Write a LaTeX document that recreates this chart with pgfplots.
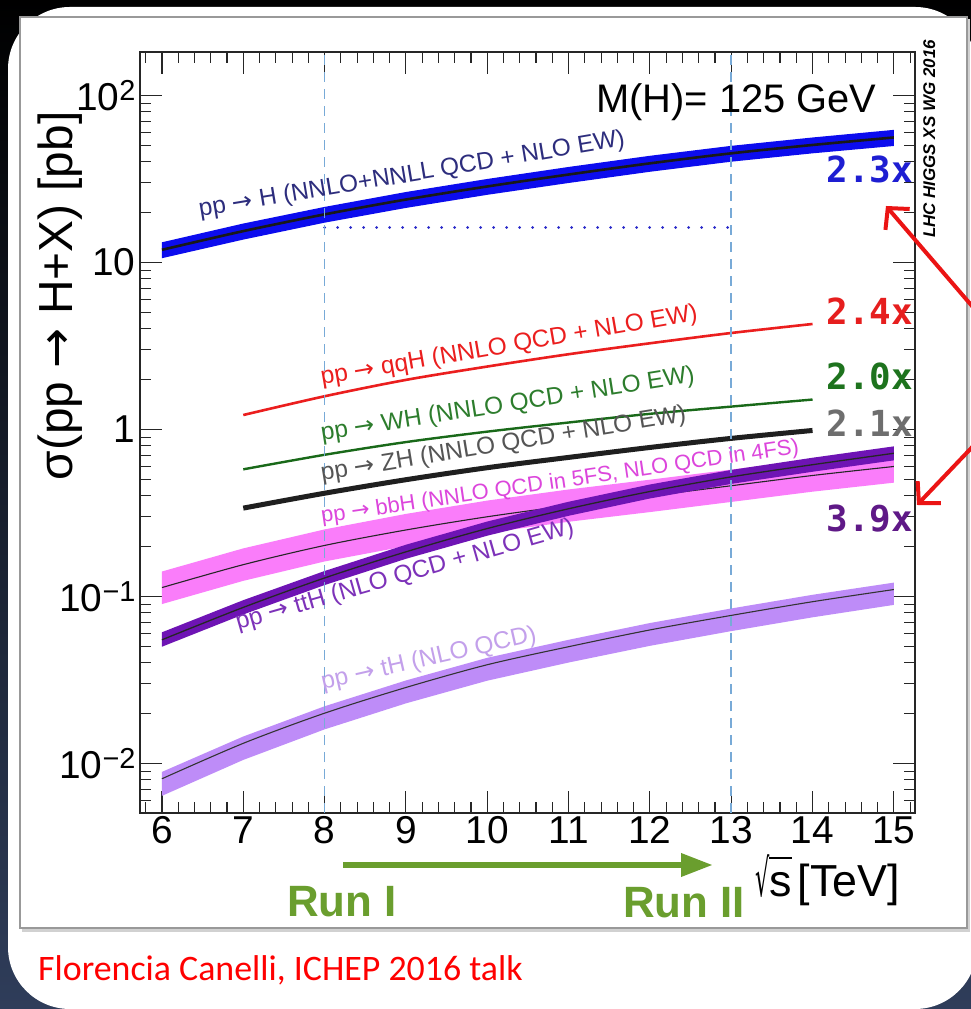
\documentclass[border=0pt]{standalone}
\usepackage{fontspec}
\setmainfont{Liberation Sans}
\newfontfamily\multfont{DejaVu Sans Mono}
\newfontfamily\dejavu{DejaVu Sans}
\newfontfamily\talkfont{Carlito}
\usepackage{graphicx}
\usepackage{pgfplots}
\usepackage{pgfplotstable}
\pgfplotsset{compat=1.18}
\usetikzlibrary{arrows.meta}

\definecolor{ggfblue}{RGB}{12,12,238}
\definecolor{ggftext}{RGB}{45,45,125}
\definecolor{ggfdot}{RGB}{40,40,200}
\definecolor{vbfred}{RGB}{235,30,30}
\definecolor{whgreen}{RGB}{25,105,25}
\definecolor{whtext}{RGB}{45,125,45}
\definecolor{zhtext}{RGB}{85,85,85}
\definecolor{bbhpink}{RGB}{250,125,250}
\definecolor{bbhtext}{RGB}{220,70,220}
\definecolor{tthpurple}{RGB}{110,20,180}
\definecolor{tthtext}{RGB}{125,50,185}
\definecolor{thlav}{RGB}{190,140,248}
\definecolor{thtext}{RGB}{195,160,235}
\definecolor{runline}{RGB}{120,170,215}
\definecolor{rungreen}{RGB}{106,158,46}
\definecolor{bgnavy}{RGB}{47,61,90}
\definecolor{multblue}{RGB}{30,30,210}
\definecolor{multred}{RGB}{230,30,30}
\definecolor{multgreen}{RGB}{30,115,30}
\definecolor{multgray}{RGB}{110,110,110}
\definecolor{multpurple}{RGB}{95,25,135}
\definecolor{arrowred}{RGB}{235,20,20}

\newcommand{\sups}[1]{\raisebox{10bp}{\fontsize{29}{29}\selectfont #1}}
\newcommand{\arr}{{\dejavu →}}

% cross sections [pb] vs sqrt(s) [TeV]: central value
\pgfplotstableread{
x c
6 11.9
7 15.4
8 19.4
9 23.8
10 28.5
11 33.6
12 39.2
13 45.0
14 50.5
15 56.0
}\tabggf

\pgfplotstableread{
x y
7 1.22
8 1.58
9 1.98
10 2.38
11 2.82
12 3.28
13 3.78
14 4.28
}\tabvbf

\pgfplotstableread{
x y
7 0.577
8 0.705
9 0.84
10 0.97
11 1.10
12 1.24
13 1.37
14 1.51
}\tabwh

\pgfplotstableread{
x y
7 0.338
8 0.415
9 0.50
10 0.59
11 0.68
12 0.78
13 0.884
14 0.986
}\tabzh

\pgfplotstableread{
x c
6 0.113
7 0.155
8 0.202
9 0.250
10 0.300
11 0.350
12 0.400
13 0.460
14 0.530
15 0.600
}\tabbbh

\pgfplotstableread{
x c
6 0.055
7 0.086
8 0.129
9 0.185
10 0.255
11 0.335
12 0.425
13 0.520
14 0.615
15 0.720
}\tabtth

\pgfplotstableread{
x c
6 0.0081
7 0.0132
8 0.0200
9 0.0285
10 0.0390
11 0.0500
12 0.0630
13 0.0770
14 0.0930
15 0.1100
}\tabth

\begin{document}
\begin{tikzpicture}
% slide background and white panel
\shade[top color=black, middle color=black!80!bgnavy, bottom color=bgnavy] (0,0) rectangle (971bp,1009bp);
\fill[white, rounded corners=62bp] (8bp,0bp) rectangle (977bp,1002bp);
% framed figure
\fill[black!18] (22bp,77bp) rectangle (970bp,990bp);
\fill[white] (20bp,81bp) rectangle (967bp,992bp);
\draw[black!40, line width=1.2bp] (20bp,81bp) rectangle (967bp,992bp);

\begin{axis}[
  at={(140bp,196bp)}, anchor=south west,
  scale only axis, width=775bp, height=761bp,
  xmin=5.73, xmax=15.26,
  ymode=log, ymin=0.00505, ymax=182,
  xtick={6,7,8,9,10,11,12,13,14,15},
  xticklabels={6,7,8,9,10,11,12,13,14,15},
  minor xtick={5.8,6.2,6.4,6.6,6.8,7.2,7.4,7.6,7.8,8.2,8.4,8.6,8.8,9.2,9.4,9.6,9.8,10.2,10.4,10.6,10.8,11.2,11.4,11.6,11.8,12.2,12.4,12.6,12.8,13.2,13.4,13.6,13.8,14.2,14.4,14.6,14.8,15.2},
  ytick={0.01,0.1,1,10,100},
  yticklabels={10\sups{−2},10\sups{−1},1,10,10\sups{2}},
  minor ytick={0.006,0.007,0.008,0.009,0.02,0.03,0.04,0.05,0.06,0.07,0.08,0.09,0.2,0.3,0.4,0.5,0.6,0.7,0.8,0.9,2,3,4,5,6,7,8,9,20,30,40,50,60,70,80,90},
  major tick length=22bp, minor tick length=11bp,
  tick style={black!85, line width=1.1bp},
  axis line style={black!85, line width=1.4bp},
  ticklabel style={font=\fontsize{39}{39}\selectfont},
  yticklabel style={xshift=-1bp},
]
% tH band (upper edge, then lower edge back)
\addplot[fill=thlav, draw=none] coordinates {
 (6,0.0089) (7,0.0145) (8,0.0220) (9,0.0314) (10,0.0429) (11,0.0550) (12,0.0693) (13,0.0847) (14,0.1023) (15,0.1210)
 (15,0.0890) (14,0.0750) (13,0.0620) (12,0.0506) (11,0.0402) (10,0.0313) (9,0.0229) (8,0.0160) (7,0.0105) (6,0.0064)} -- cycle;
\addplot[black!80, line width=1.1bp, smooth] table[x=x,y=c] {\tabth};
% bbH band
\addplot[fill=bbhpink, draw=none] coordinates {
 (6,0.141) (7,0.194) (8,0.252) (9,0.312) (10,0.375) (11,0.437) (12,0.500) (13,0.575) (14,0.662) (15,0.750)
 (15,0.480) (14,0.424) (13,0.368) (12,0.320) (11,0.280) (10,0.240) (9,0.200) (8,0.162) (7,0.124) (6,0.090)} -- cycle;
\addplot[black!85, line width=1.1bp, smooth] table[x=x,y=c] {\tabbbh};
% ttH band
\addplot[fill=tthpurple, draw=none] coordinates {
 (6,0.061) (7,0.095) (8,0.142) (9,0.204) (10,0.281) (11,0.369) (12,0.468) (13,0.572) (14,0.677) (15,0.792)
 (15,0.653) (14,0.558) (13,0.472) (12,0.386) (11,0.304) (10,0.231) (9,0.168) (8,0.117) (7,0.078) (6,0.050)} -- cycle;
\addplot[black!85, line width=1.3bp, smooth] table[x=x,y=c] {\tabtth};
% ZH, WH, qqH
\addplot[black!88, line width=5bp, smooth] table[x=x,y=y] {\tabzh};
\addplot[whgreen, line width=2.4bp, smooth] table[x=x,y=y] {\tabwh};
\addplot[vbfred, line width=2.6bp, smooth] table[x=x,y=y] {\tabvbf};
% ggF band
\addplot[fill=ggfblue, draw=none] coordinates {
 (6,13.2) (7,17.1) (8,21.5) (9,26.4) (10,31.6) (11,37.3) (12,43.5) (13,49.9) (14,56.0) (15,62.2)
 (15,49.8) (14,45.0) (13,40.1) (12,34.9) (11,29.9) (10,25.4) (9,21.2) (8,17.3) (7,13.7) (6,10.6)} -- cycle;
\addplot[black!90, line width=2.6bp, smooth] table[x=x,y=c] {\tabggf};
% ggF level at 8 TeV carried to 13 TeV
\addplot[ggfdot, line width=3bp, line cap=round, dash pattern=on 0bp off 13bp] coordinates {(8,16.2) (13,16.2)};
% Run I / Run II energies
\addplot[runline, line width=1.6bp, dash pattern=on 10bp off 7bp] coordinates {(8,0.00505) (8,182)};
\addplot[runline, line width=1.6bp, dash pattern=on 10bp off 7bp] coordinates {(13,0.00505) (13,182)};
\end{axis}

% process labels along the curves
\begin{scope}[every node/.style={anchor=base west, inner sep=0pt, font=\fontsize{24.5}{24.5}\selectfont}]
\node[ggftext, rotate=9.5] at (200bp,792bp) {pp \arr{} H (NNLO+NNLL QCD + NLO EW)};
\node[vbfred, rotate=9.8] at (322bp,624bp) {pp \arr{} qqH (NNLO QCD + NLO EW)};
\node[whtext, rotate=9.0] at (322bp,568bp) {pp \arr{} WH (NNLO QCD + NLO EW)};
\node[zhtext, rotate=9.3] at (322bp,528bp) {pp \arr{} ZH (NNLO QCD + NLO EW)};
\node[bbhtext, rotate=8.3, font=\fontsize{22}{22}\selectfont] at (322bp,486bp) {pp \arr{} bbH (NNLO QCD in 5FS, NLO QCD in 4FS)};
\node[tthtext, rotate=16] at (238bp,379bp) {pp \arr{} ttH (NLO QCD + NLO EW)};
\node[thtext, rotate=12.8] at (323bp,319bp) {pp \arr{} tH (NLO QCD)};
\end{scope}

% axis titles and header
\node[rotate=90, anchor=east, font=\fontsize{48}{48}\selectfont] at (60bp,901bp) {σ(pp \arr{} H+X) [pb]};
\node[anchor=base east, inner sep=0pt, font=\fontsize{45}{45}\selectfont] at (900bp,112bp)
  {{\dejavu\scalebox{0.5}[1.15]{√}}\kern-1bp\rlap{\rule[38bp]{23bp}{1.6bp}}s\hspace{6bp}[TeV]};
\node[anchor=base east, font=\fontsize{40}{40}\selectfont] at (880bp,896bp) {M(H)= 125 GeV};
\node[rotate=90, anchor=base west, inner sep=0pt, font=\fontsize{17}{17}\selectfont\bfseries\itshape] at (935bp,771bp) {LHC HIGGS XS WG 2016};

% growth factors from 8 to 13 TeV
\begin{scope}[every node/.style={anchor=base east, inner sep=0pt, font=\fontsize{36}{36}\selectfont\multfont\bfseries}]
\node[multblue] at (913bp,826bp) {2.3x};
\node[multred] at (913bp,684bp) {2.4x};
\node[multgreen] at (913bp,619bp) {2.0x};
\node[multgray] at (913bp,572bp) {2.1x};
\node[multpurple] at (913bp,477bp) {3.9x};
\end{scope}
\draw[arrowred, line width=4bp, -{Straight Barb[length=15bp,width=32bp]}] (978bp,696bp) -- (886bp,803bp);
\draw[arrowred, line width=4bp, -{Straight Barb[length=15bp,width=32bp]}] (978bp,568bp) -- (917bp,504bp);

% run periods
\draw[rungreen, line width=6.5bp, -{Triangle[length=32bp,width=22bp]}] (343bp,144bp) -- (713bp,144bp);
\node[rungreen, anchor=base west, inner sep=0pt, font=\fontsize{44}{44}\selectfont\bfseries] at (287bp,92bp) {Run I};
\node[rungreen, anchor=base west, inner sep=0pt, font=\fontsize{44}{44}\selectfont\bfseries] at (623bp,91bp) {Run II};

% source
\node[red, anchor=base west, inner sep=0pt, font=\fontsize{36}{36}\selectfont\talkfont] at (38bp,29bp) {Florencia Canelli, ICHEP 2016 talk};

\pgfresetboundingbox
\useasboundingbox (0,0) rectangle (971bp,1009bp);
\end{tikzpicture}
\end{document}
